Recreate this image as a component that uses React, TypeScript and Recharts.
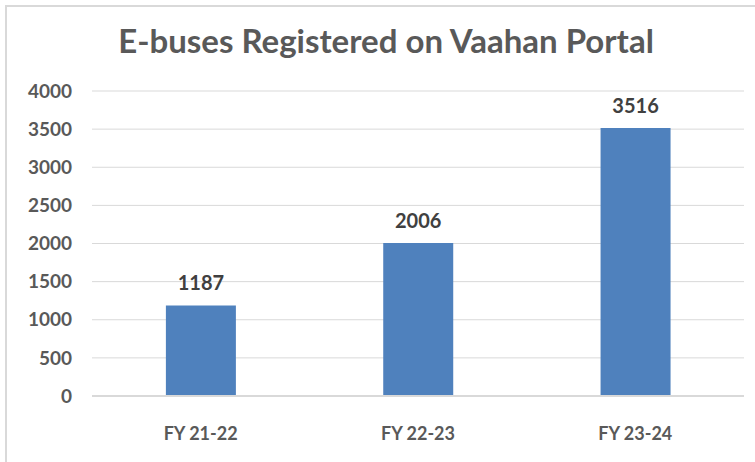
import React from 'react';
import { BarChart, Bar, XAxis, YAxis, CartesianGrid, LabelList } from 'recharts';

const years = ['FY 21-22', 'FY 22-23', 'FY 23-24'];
const registrations = [1187, 2006, 3516];
const yTicks = [0, 500, 1000, 1500, 2000, 2500, 3000, 3500, 4000];

const data = years.map((name, i) => ({ name, value: registrations[i] }));

const font = 'Lato, "Open Sans", sans-serif';

const App: React.FC = () => {
  return (
    <div
      style={{
        position: 'absolute',
        left: 5,
        top: 5,
        width: 765,
        height: 470,
        border: '2px solid #d9d9d9',
        background: '#fff',
        fontFamily: font,
      }}
    >
      <div
        style={{
          position: 'absolute',
          left: 0,
          width: 758,
          top: 14,
          textAlign: 'center',
          fontSize: 33,
          lineHeight: 1.2,
          fontWeight: 700,
          color: '#595959',
        }}
      >
        E-buses Registered on Vaahan Portal
      </div>
      <BarChart
        width={760}
        height={460}
        data={data}
        margin={{ top: 84, right: 23, bottom: 0, left: 0 }}
        barCategoryGap="34%"
      >
        <CartesianGrid vertical={false} stroke="#d9d9d9" />
        <XAxis
          dataKey="name"
          height={71}
          axisLine={{ stroke: '#d9d9d9', strokeWidth: 2 }}
          tickLine={false}
          tickSize={0}
          tickMargin={31}
          tick={{ fill: '#595959', fontSize: 18, fontWeight: 700, fontFamily: font }}
        />
        <YAxis
          width={85}
          domain={[0, 4000]}
          ticks={yTicks}
          axisLine={false}
          tickLine={false}
          tickSize={0}
          tickMargin={20}
          tick={{ fill: '#595959', fontSize: 19, fontWeight: 700, fontFamily: font }}
        />
        <Bar dataKey="value" fill="#4f81bd" isAnimationActive={false}>
          <LabelList
            dataKey="value"
            position="top"
            offset={15}
            fill="#404040"
            fontSize={20}
            fontWeight={700}
            fontFamily={font}
          />
        </Bar>
      </BarChart>
    </div>
  );
};

export default App;
